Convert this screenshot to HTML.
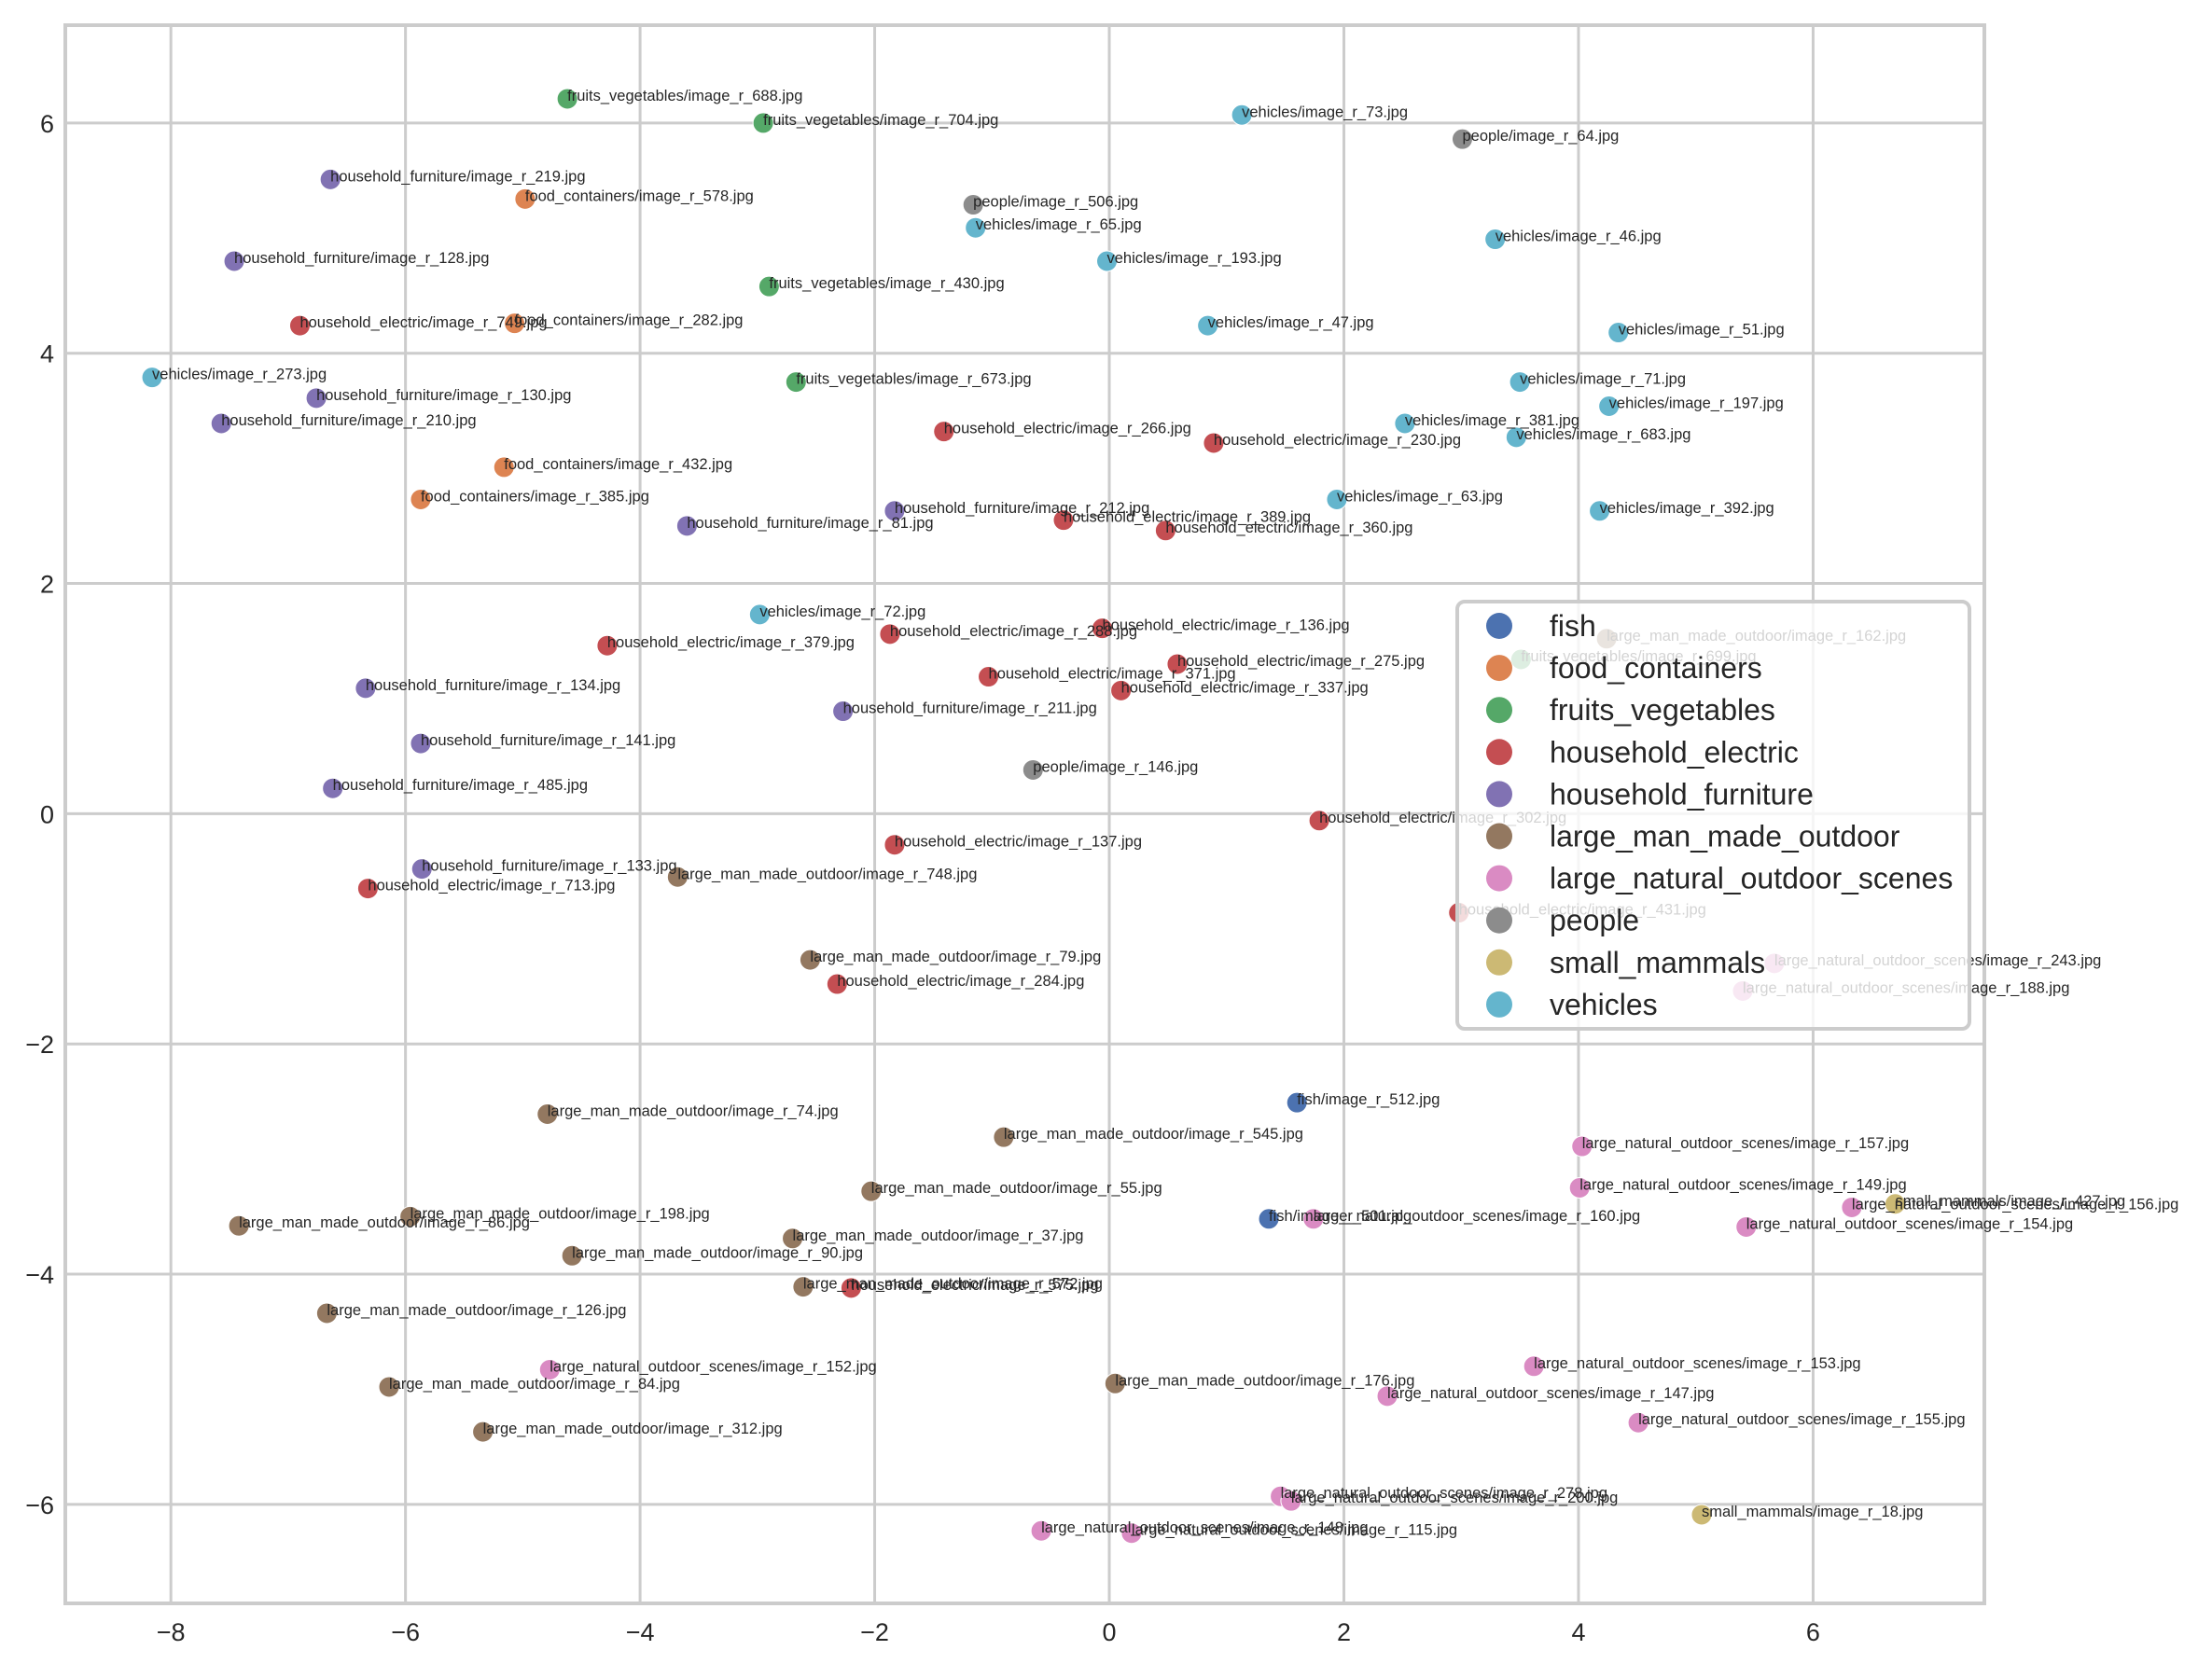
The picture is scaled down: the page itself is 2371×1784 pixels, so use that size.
<!DOCTYPE html>
<html><head><meta charset="utf-8"><style>
html,body{margin:0;padding:0;background:#fff;}
svg{display:block;font-family:"Liberation Sans",sans-serif;}
</style></head><body>
<svg id="chart" width="2371" height="1784" viewBox="0 0 2371 1784"></svg>
<script>
const categories=["fish","food_containers","fruits_vegetables","household_electric","household_furniture","large_man_made_outdoor","large_natural_outdoor_scenes","people","small_mammals","vehicles"];
const colors=["#4C72B0","#DD8452","#55A868","#C44E52","#8172B3","#937860","#DA8BC3","#8C8C8C","#CCB974","#64B5CD"];
const xTicks=[-8,-6,-4,-2,0,2,4,6];
const yTicks=[-6,-4,-2,0,2,4,6];
const pointCats=[2,2,2,2,2, 1,1,1,1, 4,4,4,4,4,4,4,4,4,4,4,
3,3,3,3,3,3,3,3,3,3,3,3,3,3,3,3,3,
9,9,9,9,9,9,9,9,9,9,9,9,9,9, 7,7,7,
5,5,5,5,5,5,5,5,5,5,5,5,5,5,5, 0,0,
6,6,6,6,6,6,6,6,6,6,6,6,6,6,6, 8,8];
const pointImgs=[688,704,430,673,699, 578,282,432,385, 219,128,130,210,212,81,134,141,485,133,211,
749,266,230,389,360,379,288,136,275,371,337,302,137,713,431,284,575,
73,65,193,46,47,51,273,71,197,381,683,63,392,72, 64,506,146,
162,748,79,74,545,55,198,86,90,37,572,126,176,84,312, 512,501,
243,188,157,149,156,154,160,152,153,147,155,278,200,148,115, 427,18];
const xVals=[-4.62,-2.95,-2.90,-2.67,3.51, -4.98,-5.07,-5.16,-5.87,
-6.64,-7.46,-6.76,-7.57,-1.83,-3.60,-6.34,-5.87,-6.62,-5.86,-2.27,
-6.90,-1.41,0.89,-0.39,0.48,-4.28,-1.87,-0.06,0.58,-1.03,0.10,1.79,-1.83,-6.32,2.98,-2.32,-2.20,
1.13,-1.14,-0.02,3.29,0.84,4.34,-8.16,3.50,4.26,2.52,3.47,1.94,4.18,-2.98,
3.01,-1.16,-0.65,
4.24,-3.68,-2.55,-4.79,-0.90,-2.03,-5.96,-7.42,-4.58,-2.70,-2.61,-6.67,0.05,-6.14,-5.34,
1.60,1.36,
5.67,5.40,4.03,4.01,6.33,5.43,1.74,-4.77,3.62,2.37,4.51,1.46,1.55,-0.58,0.19,
6.70,5.05];
const yVals=[6.21,6.00,4.58,3.75,1.34, 5.34,4.26,3.01,2.73,
5.51,4.80,3.61,3.39,2.63,2.50,1.09,0.61,0.22,-0.48,0.89,
4.24,3.32,3.22,2.55,2.46,1.46,1.56,1.61,1.30,1.19,1.07,-0.06,-0.27,-0.65,-0.86,-1.48,-4.12,
6.07,5.09,4.80,4.99,4.24,4.18,3.79,3.75,3.54,3.39,3.27,2.73,2.63,1.73,
5.86,5.29,0.38,
1.52,-0.55,-1.27,-2.61,-2.81,-3.28,-3.50,-3.58,-3.84,-3.69,-4.11,-4.34,-4.95,-4.98,-5.37,
-2.51,-3.52,
-1.30,-1.54,-2.89,-3.25,-3.42,-3.59,-3.52,-4.83,-4.80,-5.06,-5.29,-5.93,-5.97,-6.23,-6.25,
-3.39,-6.09];

const NS="http://www.w3.org/2000/svg";
const svg=document.getElementById('chart');
const L=70,R=2127,T=27,B=1719;
const X0=-8.90,X1=7.46,Y0=-6.86,Y1=6.85;
function sx(v){return L+(v-X0)/(X1-X0)*(R-L);}
function sy(v){return B-(v-Y0)/(Y1-Y0)*(B-T);}
function mk(tag,attrs,parent){const e=document.createElementNS(NS,tag);for(const k in attrs)e.setAttribute(k,attrs[k]);(parent||svg).appendChild(e);return e;}

const grid=mk('g',{});


xTicks.forEach(t=>{
  const l=mk('line',{x1:sx(t),x2:sx(t),y1:T,y2:B,stroke:'#cccccc','stroke-width':3},grid);
  
  
  const tx=mk('text',{x:sx(t),y:B+40,'text-anchor':'middle','font-size':27,fill:'#262626'});
  tx.textContent=(t<0?'\u2212'+(-t):String(t));
  
  
});
yTicks.forEach(t=>{
  const l=mk('line',{x1:L,x2:R,y1:sy(t),y2:sy(t),stroke:'#cccccc','stroke-width':3},grid);
  
  
  const tx=mk('text',{x:L-12,y:sy(t)+10,'text-anchor':'end','font-size':27,fill:'#262626'});
  tx.textContent=(t<0?'\u2212'+(-t):String(t));
  
  
});
const frame=mk('rect',{x:L,y:T,width:R-L,height:B-T,fill:'none',stroke:'#cccccc','stroke-width':4});



const pts=mk('g',{});


for(let i=0;i<xVals.length;i++){
  const c=mk('circle',{cx:sx(xVals[i]),cy:sy(yVals[i]),r:11,fill:colors[pointCats[i]],stroke:'#fff','stroke-width':1},pts);
  
  
}
const labs=mk('g',{});


for(let i=0;i<xVals.length;i++){
  const t=mk('text',{x:sx(xVals[i]),y:sy(yVals[i])+2,'font-size':16.5,fill:'#262626'},labs);
  t.textContent=categories[pointCats[i]]+'/image_r_'+pointImgs[i]+'.jpg';
  
  
}

const lg=mk('g',{});


mk('rect',{x:1562,y:645,width:549,height:458,rx:8,fill:'#ffffff','fill-opacity':0.8,stroke:'#cccccc','stroke-width':4},lg);
categories.forEach((c,i)=>{
  const y=671+i*45.1;
  const m=mk('circle',{cx:1607,cy:y,r:14,fill:colors[i]},lg);
  
  
  const t=mk('text',{x:1661,y:y+11,'font-size':32,fill:'#262626'},lg);
  t.textContent=c;
  
  
});
</script>
</body></html>
